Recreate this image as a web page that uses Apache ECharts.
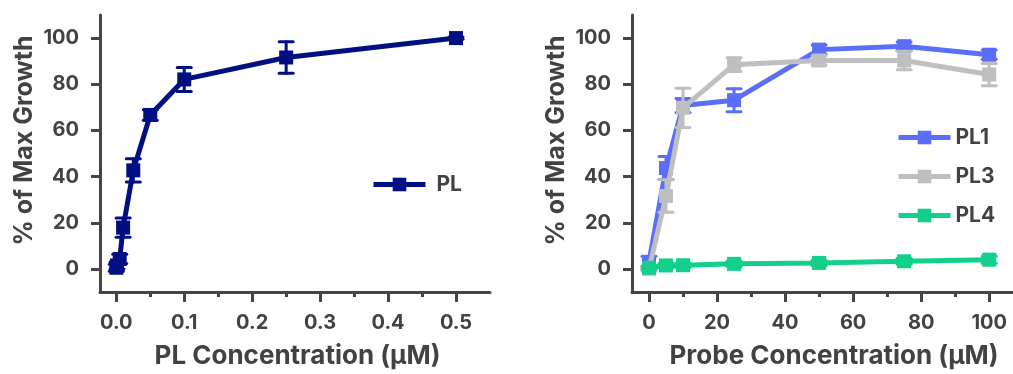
<!DOCTYPE html>
<html><head><meta charset="utf-8">
<script src="https://cdn.jsdelivr.net/npm/echarts@6/dist/echarts.min.js"></script>
<style>html,body{margin:0;padding:0;background:#fff}#c{width:1013px;height:374px}</style>
</head><body><div id="c"></div>
<script>
// ---- data ----
const plConc = [0, 0.001, 0.005, 0.01, 0.025, 0.05, 0.1, 0.25, 0.5];
const plMean = [0.5, 1.5, 4.3, 17.9, 42.7, 66.7, 82.1, 91.6, 100];
const plErr  = [1.5, 1.5, 2, 4.2, 5, 2.3, 5.2, 6.8, 0.5];

const probeConc = [0, 5, 10, 25, 50, 75, 100];
const pl1Mean = [3, 43.7, 70.8, 73.1, 95, 96.5, 92.8];
const pl1Err  = [2.5, 5, 3, 5, 2, 1.8, 2];
const pl3Mean = [0, 31.6, 69.8, 88.5, 90.3, 90.3, 84.2];
const pl3Err  = [1, 7, 8.5, 3, 2, 4, 4.8];
const pl4Mean = [0.5, 1.5, 1.6, 2.2, 2.6, 3.3, 4.0];
const pl4Err  = [0.8, 1, 1, 1.2, 1.2, 1.3, 1.5];

const yTicks = [0, 20, 40, 60, 80, 100];
const plTicks = [0, 0.1, 0.2, 0.3, 0.4, 0.5];
const plMinor = [0.05, 0.15, 0.25, 0.35, 0.45];
const probeTicks = [0, 20, 40, 60, 80, 100];
const probeMinor = [10, 30, 50, 70, 90];

// ---- style ----
const FONT = 'Inter';
const TXT = '#424242';
const AX = '#454545';
const C_PL = '#000f82', C_PL1 = '#5b6ef8', C_PL3 = '#bfbfbf', C_PL4 = '#12cf8a';

function lineSeries(name, xs, ys, color, xi, yi, z) {
  return { type: 'line', name, xAxisIndex: xi, yAxisIndex: yi, z,
    data: xs.map((x, i) => [x, ys[i]]), symbol: 'rect', symbolSize: 14,
    lineStyle: { width: 5, color }, itemStyle: { color }, clip: false, silent: true, animation: false };
}
function errSeries(xs, ys, es, color, xi, yi, z) {
  return { type: 'custom', xAxisIndex: xi, yAxisIndex: yi, z, silent: true, animation: false, clip: false,
    data: xs.map((x, i) => [x, ys[i] - es[i], ys[i] + es[i]]),
    encode: { x: 0, y: [1, 2] },
    renderItem: (params, api) => {
      const lo = api.coord([api.value(0), api.value(1)]);
      const hi = api.coord([api.value(0), api.value(2)]);
      const w = 7;
      const st = { stroke: color, lineWidth: 3, lineCap: 'round' };
      return { type: 'group', children: [
        { type: 'line', shape: { x1: lo[0], y1: lo[1], x2: hi[0], y2: hi[1] }, style: st },
        { type: 'line', shape: { x1: lo[0] - w, y1: lo[1], x2: lo[0] + w, y2: lo[1] }, style: st },
        { type: 'line', shape: { x1: hi[0] - w, y1: hi[1], x2: hi[0] + w, y2: hi[1] }, style: st }
      ]};
    } };
}
function majorX(grid, min, max, ticks, fmt, name, pad) {
  return { type: 'value', gridIndex: grid, min, max, position: 'bottom',
    axisLine: { show: true, onZero: false, lineStyle: { color: AX, width: 3 } },
    axisTick: { show: true, customValues: ticks, length: 10, lineStyle: { color: AX, width: 3 } },
    axisLabel: { customValues: ticks, formatter: fmt, margin: 21, fontSize: 20, fontWeight: 'bold', color: TXT, fontFamily: FONT },
    splitLine: { show: false },
    name, nameLocation: 'middle', nameGap: 51,
    nameTextStyle: { fontSize: 26, fontWeight: 'bold', color: TXT, fontFamily: FONT, padding: pad } };
}
function minorX(grid, min, max, ticks) {
  return { type: 'value', gridIndex: grid, min, max, position: 'bottom',
    axisLine: { show: false, onZero: false },
    axisTick: { show: true, customValues: ticks, length: 5, lineStyle: { color: AX, width: 3 } },
    axisLabel: { show: false, customValues: ticks }, splitLine: { show: false } };
}
function yAx(grid) {
  return { type: 'value', gridIndex: grid, min: -10, max: 110,
    axisLine: { show: true, onZero: false, lineStyle: { color: AX, width: 3 } },
    axisTick: { show: true, customValues: yTicks, length: 9, lineStyle: { color: AX, width: 3 } },
    axisLabel: { customValues: yTicks, margin: 21, fontSize: 20, fontWeight: 'bold', color: TXT, fontFamily: FONT },
    splitLine: { show: false },
    name: '% of Max Growth', nameLocation: 'middle', nameGap: 63,
    nameTextStyle: { fontSize: 25, fontWeight: 'bold', color: TXT, fontFamily: FONT, padding: [0, 0, 0, 26] } };
}

const legendText = { fontSize: 21, fontWeight: 'bold', color: TXT, fontFamily: FONT, lineHeight: 20 };
const legendLine = { width: 5 };

const option = {
  animation: false,
  backgroundColor: '#fff',
  grid: [
    { left: 100, top: 15, width: 390, height: 280 },
    { left: 632, top: 15, width: 381, height: 280 }
  ],
  xAxis: [
    majorX(0, -0.024, 0.55, plTicks, v => v.toFixed(1), 'PL Concentration (µM)', [0, 0, 0, 5]),
    minorX(0, -0.024, 0.55, plMinor),
    majorX(1, -5, 107, probeTicks, v => String(v), 'Probe Concentration (µM)', [0, 0, 0, 23]),
    minorX(1, -5, 107, probeMinor)
  ],
  yAxis: [yAx(0), yAx(1)],
  legend: [
    { data: ['PL'], left: 371, top: 174, padding: 0, orient: 'vertical', itemWidth: 52, itemHeight: 17,
      textStyle: Object.assign({}, legendText, { padding: [0, 0, 0, 6] }), lineStyle: legendLine, selectedMode: false },
    { data: ['PL1', 'PL3', 'PL4'], left: 896, top: 127, padding: 0, orient: 'vertical', itemWidth: 52, itemHeight: 17,
      itemGap: 18, textStyle: legendText, lineStyle: legendLine, selectedMode: false }
  ],
  series: [
    errSeries(plConc, plMean, plErr, C_PL, 0, 0, 2),
    lineSeries('PL', plConc, plMean, C_PL, 0, 0, 3),
    errSeries(probeConc, pl1Mean, pl1Err, C_PL1, 2, 1, 2),
    lineSeries('PL1', probeConc, pl1Mean, C_PL1, 2, 1, 3),
    errSeries(probeConc, pl3Mean, pl3Err, C_PL3, 2, 1, 4),
    lineSeries('PL3', probeConc, pl3Mean, C_PL3, 2, 1, 5),
    errSeries(probeConc, pl4Mean, pl4Err, C_PL4, 2, 1, 6),
    lineSeries('PL4', probeConc, pl4Mean, C_PL4, 2, 1, 7)
  ]
};
const chart = echarts.init(document.getElementById('c'), null, { renderer: 'canvas' });
chart.setOption(option);
</script></body></html>
